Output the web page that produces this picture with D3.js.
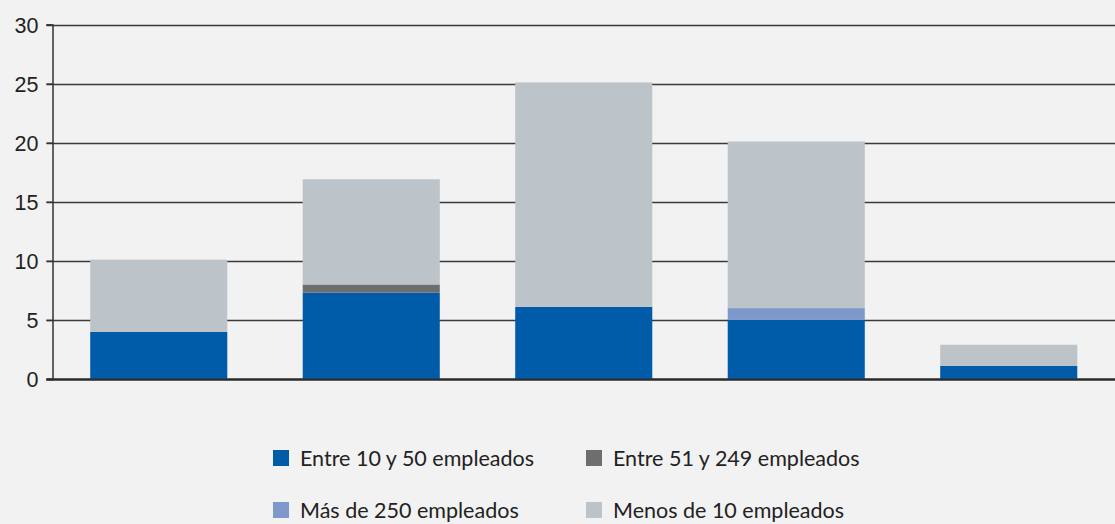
<!DOCTYPE html>
<html>
<head>
<meta charset="utf-8">
<script src="https://cdn.jsdelivr.net/npm/d3@7"></script>
<style>
  html, body { margin: 0; padding: 0; background: #f2f2f2; }
  svg { display: block; font-family: Lato, "Open Sans", sans-serif; }
</style>
</head>
<body>
<div id="chart"></div>
<script>
// categories have no visible labels in the original
var categories = ["c1", "c2", "c3", "c4", "c5"];
var seriesNames = ["Entre 10 y 50 empleados", "Entre 51 y 249 empleados", "Más de 250 empleados", "Menos de 10 empleados"];
var entre10y50 = [4, 7.3, 6.1, 5, 1.1];
var entre51y249 = [0, 0.7, 0, 0, 0];
var mas250 = [0, 0, 0, 1, 0];
var menos10 = [6.1, 8.9, 19, 14.1, 1.8];
var yTicks = [0, 5, 10, 15, 20, 25, 30];
var colors = ["#005ca8", "#6d6e70", "#7f98cc", "#bcc3c9"];

(function () {
    var width = 1115, height = 524;
    var margin = {top: 24.5, right: 0, bottom: 145, left: 52.5};

    var rows = categories.map(function (c, i) {
        return {cat: c, s0: entre10y50[i], s1: entre51y249[i], s2: mas250[i], s3: menos10[i]};
    });
    var stack = d3.stack().keys(["s0", "s1", "s2", "s3"])(rows);

    var svg = d3.select("#chart").append("svg")
        .attr("width", width)
        .attr("height", height);

    var x = d3.scaleBand()
        .domain(categories)
        .range([margin.left, width - margin.right])
        .paddingInner(0.355)
        .paddingOuter(0.1775);

    var y = d3.scaleLinear()
        .domain([0, 30])
        .range([height - margin.bottom, margin.top]);

    // grid lines
    svg.append("g")
        .selectAll("line")
        .data(yTicks)
        .join("line")
        .attr("x1", margin.left - 6)
        .attr("x2", width)
        .attr("y1", function (d) { return Math.round(y(d)) + 0.5; })
        .attr("y2", function (d) { return Math.round(y(d)) + 0.5; })
        .attr("stroke", function (d) { return d === 0 ? "#2b2b2b" : "#3a3a3a"; })
        .attr("stroke-width", function (d) { return d === 0 ? 2 : 1.5; });

    // bars
    svg.append("g")
        .selectAll("g")
        .data(stack)
        .join("g")
        .attr("fill", function (d, i) { return colors[i]; })
        .selectAll("rect")
        .data(function (d) { return d; })
        .join("rect")
        .attr("x", function (d) { return x(d.data.cat); })
        .attr("width", x.bandwidth())
        .attr("y", function (d) { return y(d[1]); })
        .attr("height", function (d) { return y(d[0]) - y(d[1]); });

    // y axis
    var yAxis = d3.axisLeft(y)
        .tickValues(yTicks)
        .tickSize(6)
        .tickPadding(8);

    var gy = svg.append("g")
        .attr("transform", "translate(" + margin.left + ",0)")
        .call(yAxis);
    gy.select(".domain").attr("stroke", "#333").attr("stroke-width", 1.5);
    gy.selectAll(".tick line").attr("stroke", "#333").attr("stroke-width", 1.5);
    gy.selectAll(".tick text")
        .attr("fill", "#222")
        .style("font-size", "21.5px")
        .attr("dy", "0.36em");

    // zero baseline over bars
    svg.append("line")
        .attr("x1", margin.left - 6)
        .attr("x2", width)
        .attr("y1", Math.round(y(0)) + 0.5)
        .attr("y2", Math.round(y(0)) + 0.5)
        .attr("stroke", "#2b2b2b")
        .attr("stroke-width", 2);

    // legend, 2 x 2
    var legCols = [273, 586], legRows = [458, 510];
    var legend = svg.append("g")
        .selectAll("g")
        .data(seriesNames)
        .join("g")
        .attr("transform", function (d, i) {
            return "translate(" + legCols[i % 2] + "," + legRows[Math.floor(i / 2)] + ")";
        });
    legend.append("rect")
        .attr("x", 0)
        .attr("y", -8)
        .attr("width", 16)
        .attr("height", 16)
        .attr("fill", function (d, i) { return colors[i]; });
    legend.append("text")
        .attr("x", 27)
        .attr("y", 0)
        .attr("dy", "0.36em")
        .attr("fill", "#222")
        .style("font-size", "21.5px")
        .text(function (d) { return d; });
}());
</script>
</body>
</html>
